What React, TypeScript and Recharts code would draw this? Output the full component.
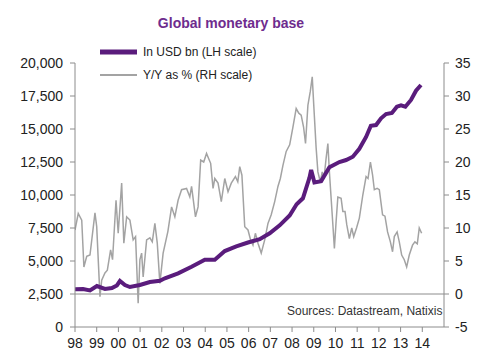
import React from 'react'
import { LineChart, Line, XAxis, YAxis, ReferenceLine } from 'recharts'

// Global monetary base, USD bn (left scale)
const baseYears = [
  1998.0, 1998.37, 1998.69, 1999.01, 1999.38, 1999.7, 1999.93, 2000.07, 2000.3, 2000.53,
  2000.99, 2001.45, 2001.91, 2002.14, 2002.75, 2003.37, 2003.98, 2004.44, 2004.9, 2005.43,
  2005.97, 2006.51, 2006.97, 2007.43, 2007.89, 2008.21, 2008.5, 2008.8, 2008.88, 2009.03,
  2009.34, 2009.72, 2010.18, 2010.49, 2010.8, 2011.1, 2011.41, 2011.63, 2011.87, 2012.1,
  2012.33, 2012.6, 2012.83, 2013.02, 2013.22, 2013.48, 2013.71, 2013.94,
]
const baseUsd = [
  2856, 2870, 2765, 3100, 2880, 2950, 3150, 3485, 3180, 3030,
  3180, 3410, 3500, 3690, 4065, 4570, 5100, 5100, 5750, 6100,
  6400, 6650, 7100, 7700, 8450, 9300, 9750, 11300, 11900, 10950,
  11050, 12100, 12500, 12650, 12900, 13500, 14400, 15240, 15300, 15810,
  16130, 16220, 16690, 16800, 16690, 17200, 17900, 18330,
]

// Y/Y change, % (right scale)
const yoyYears = [
  1998.0, 1998.15, 1998.31, 1998.41, 1998.54, 1998.69, 1998.92, 1999.0, 1999.15, 1999.23,
  1999.38, 1999.49, 1999.64, 1999.73, 1999.89, 1999.99, 2000.15, 2000.25, 2000.38, 2000.53,
  2000.68, 2000.79, 2000.91, 2000.99, 2001.07, 2001.14, 2001.3, 2001.45, 2001.56, 2001.68,
  2001.79, 2001.91, 2002.06, 2002.28, 2002.45, 2002.6, 2002.75, 2002.91, 2003.14, 2003.29,
  2003.37, 2003.55, 2003.67, 2003.79, 2003.93, 2004.06, 2004.16, 2004.25, 2004.36, 2004.44,
  2004.59, 2004.74, 2004.9, 2005.05, 2005.2, 2005.39, 2005.5, 2005.59, 2005.69, 2005.82,
  2005.97, 2006.09, 2006.2, 2006.31, 2006.43, 2006.58, 2006.74, 2006.89, 2007.04, 2007.2,
  2007.35, 2007.46, 2007.58, 2007.73, 2007.89, 2008.04, 2008.19, 2008.31, 2008.42, 2008.53,
  2008.62, 2008.73, 2008.84, 2008.93, 2009.0, 2009.11, 2009.19, 2009.3, 2009.39, 2009.47,
  2009.57, 2009.65, 2009.72, 2009.8, 2009.88, 2009.95, 2010.03, 2010.11, 2010.26, 2010.34,
  2010.44, 2010.52, 2010.64, 2010.75, 2010.84, 2010.97, 2011.1, 2011.26, 2011.41, 2011.5,
  2011.61, 2011.71, 2011.79, 2011.92, 2012.02, 2012.17, 2012.28, 2012.4, 2012.53, 2012.63,
  2012.71, 2012.84, 2012.94, 2013.05, 2013.17, 2013.28, 2013.4, 2013.55, 2013.66, 2013.77,
  2013.86, 2013.97,
]
const yoyPct = [
  9.7, 12.2, 11.2, 4.1, 5.7, 5.9, 12.3, 10.2, -0.4, 2.1,
  3.2, 3.6, 6.7, 5.2, 14.2, 9.2, 16.8, 7.7, 11.7, 11.2,
  8.2, 8.7, -1.4, 5.2, 6.2, 2.6, 8.2, 8.5, 7.9, 10.7,
  7.7, 1.6, 6.2, 9.5, 13.2, 11.7, 14.2, 15.8, 16.0, 14.7,
  16.3, 11.7, 13.2, 20.3, 20.0, 21.3, 20.5, 19.8, 16.0, 17.5,
  16.8, 14.0, 17.5, 15.5, 16.8, 17.8, 17.0, 19.3, 18.0, 10.2,
  9.7, 8.2, 7.4, 9.2, 7.7, 6.2, 8.2, 10.7, 12.0, 14.0,
  16.3, 17.5, 19.5, 21.6, 22.6, 25.3, 28.1, 27.4, 27.1, 25.3,
  22.8, 28.6, 30.7, 32.9, 28.6, 22.1, 18.5, 17.0, 18.5, 17.5,
  20.6, 22.8, 18.5, 14.5, 10.5, 6.9, 11.0, 14.7, 14.5, 12.5,
  12.5, 10.5, 8.4, 10.0, 8.7, 10.0, 11.5, 15.0, 17.8, 17.5,
  20.0, 18.0, 15.8, 16.0, 15.8, 12.0, 11.8, 9.4, 7.9, 6.4,
  8.7, 9.4, 7.9, 5.9, 5.2, 4.1, 5.9, 7.4, 7.9, 7.6,
  10.0, 9.2,
]

const yearTicks = [1998, 1999, 2000, 2001, 2002, 2003, 2004, 2005, 2006, 2007, 2008, 2009, 2010, 2011, 2012, 2013, 2014]
const leftTicks = [0, 2500, 5000, 7500, 10000, 12500, 15000, 17500, 20000]
const rightTicks = [-5, 0, 5, 10, 15, 20, 25, 30, 35]

const baseData = baseYears.map((t, i) => ({ t, v: baseUsd[i] }))
const yoyData = yoyYears.map((t, i) => ({ t, v: yoyPct[i] }))

const PURPLE = '#5a1c7c'
const GREY = '#a3a3a3'
const AXIS = '#8c8c8c'
const FONT = '"Liberation Sans", Arial, sans-serif'

function LegendBox() {
  return (
    <svg width={180} height={40} style={{ position: 'absolute', left: 100, top: 45 }}>
      <line x1={0} y1={7} x2={37} y2={7} stroke={PURPLE} strokeWidth={5} />
      <text x={43} y={11} fontSize={12} fill="#222" fontFamily={FONT}>In USD bn (LH scale)</text>
      <line x1={0} y1={30} x2={37} y2={30} stroke={GREY} strokeWidth={2} />
      <text x={43} y={34} fontSize={12} fill="#222" fontFamily={FONT}>Y/Y as % (RH scale)</text>
    </svg>
  )
}

export default function App() {
  const tick = { fontSize: 14, fill: '#222', fontFamily: FONT }
  return (
    <div style={{ position: 'absolute', left: 0, top: 0, width: 489, height: 361, background: '#fff', fontFamily: FONT }}>
      <div style={{ position: 'absolute', left: 0, width: 462, top: 15, textAlign: 'center', fontSize: 14, fontWeight: 'bold', color: '#6e2c8e' }}>
        Global monetary base
      </div>
      <LineChart width={489} height={361} margin={{ top: 63, right: 0, bottom: 0, left: 0 }}>
        <XAxis
          type="number"
          dataKey="t"
          domain={[1998, 2015]}
          ticks={yearTicks}
          tickFormatter={(y: number) => String(y % 100).padStart(2, '0')}
          height={34}
          tick={tick}
          tickSize={5}
          tickMargin={6}
          stroke={AXIS}
          allowDataOverflow
        />
        <YAxis
          yAxisId="left"
          domain={[0, 20000]}
          ticks={leftTicks}
          tickFormatter={(v: number) => v.toLocaleString('en-US')}
          width={75}
          tick={tick}
          tickSize={5}
          tickMargin={7}
          stroke={AXIS}
        />
        <YAxis
          yAxisId="right"
          orientation="right"
          domain={[-5, 35]}
          ticks={rightTicks}
          width={45}
          tick={tick}
          tickSize={5}
          tickMargin={6}
          stroke={AXIS}
        />
        <ReferenceLine yAxisId="left" y={2500} stroke={AXIS} strokeWidth={1} />
        <Line
          yAxisId="right"
          data={yoyData}
          dataKey="v"
          stroke={GREY}
          strokeWidth={1.5}
          dot={false}
          isAnimationActive={false}
          type="linear"
        />
        <Line
          yAxisId="left"
          data={baseData}
          dataKey="v"
          stroke={PURPLE}
          strokeWidth={4}
          dot={false}
          isAnimationActive={false}
          type="linear"
        />
      </LineChart>
      <LegendBox />
      <div style={{ position: 'absolute', left: 287, top: 304, fontSize: 12, color: '#333' }}>
        Sources: Datastream, Natixis
      </div>
    </div>
  )
}
